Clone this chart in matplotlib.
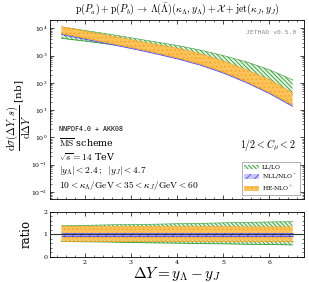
import numpy as np
import matplotlib
matplotlib.use("Agg")
import matplotlib.pyplot as plt
from matplotlib.patches import Patch

plt.rcParams['mathtext.fontset'] = 'cm'
plt.rcParams['font.family'] = 'serif'
plt.rcParams['font.serif'] = ['DejaVu Serif']
plt.rcParams['hatch.linewidth'] = 0.6

# rapidity interval values
dY = [1.5, 2.0, 2.5, 3.0, 3.5, 4.0, 4.5, 5.0, 5.5, 6.0, 6.5]

# log10 of the cross section bands [nb]
ll_hi = [4.05, 3.92, 3.79, 3.65, 3.51, 3.37, 3.20, 3.00, 2.77, 2.48, 2.11]
ll_lo = [3.63, 3.53, 3.42, 3.31, 3.19, 3.07, 2.90, 2.67, 2.40, 2.05, 1.56]
nll_hi = [3.86, 3.69, 3.52, 3.35, 3.17, 2.97, 2.74, 2.45, 2.10, 1.70, 1.24]
nll_lo = [3.77, 3.60, 3.43, 3.26, 3.08, 2.88, 2.65, 2.36, 2.01, 1.61, 1.14]
he_hi = [4.06, 3.90, 3.74, 3.58, 3.42, 3.27, 3.07, 2.80, 2.48, 2.12, 1.63]
he_lo = [3.81, 3.64, 3.47, 3.30, 3.12, 2.92, 2.69, 2.40, 2.05, 1.65, 1.19]

# ratio bands
r_ll_hi = [1.38, 1.40, 1.42, 1.44, 1.45, 1.47, 1.49, 1.51, 1.53, 1.55, 1.56]
r_ll_lo = [0.68, 0.67, 0.66, 0.64, 0.62, 0.61, 0.59, 0.58, 0.56, 0.55, 0.53]
r_nll_hi = [1.05, 1.05, 1.05, 1.05, 1.05, 1.05, 1.05, 1.05, 1.05, 1.05, 1.05]
r_nll_lo = [0.94, 0.94, 0.94, 0.94, 0.94, 0.94, 0.94, 0.94, 0.94, 0.94, 0.94]
r_he_hi = [1.36, 1.36, 1.35, 1.35, 1.35, 1.34, 1.34, 1.34, 1.33, 1.33, 1.33]
r_he_lo = [0.72, 0.72, 0.72, 0.72, 0.72, 0.72, 0.72, 0.72, 0.72, 0.72, 0.72]

green = '#2e9a2e'
blue = '#4a4aff'
orange = '#f7a21b'
ghatch = '\\' * 8

fig = plt.figure(figsize=(3.09, 2.82), dpi=100)
ax = fig.add_axes([0.162, 0.294, 0.822, 0.635])
axr = fig.add_axes([0.162, 0.089, 0.822, 0.160])

x = np.array(dY)


def band(a, lo, hi, col, fc, hatch, z):
    a.fill_between(x, lo, hi, facecolor=fc, edgecolor=col, hatch=hatch,
                   linewidth=0.0, zorder=z)
    a.plot(x, lo, color=col, lw=0.6, zorder=z)
    a.plot(x, hi, color=col, lw=0.4, zorder=z)


band(ax, 10**np.array(ll_lo), 10**np.array(ll_hi), green, '#e4f4e4', ghatch, 2)
band(ax, 10**np.array(nll_lo), 10**np.array(nll_hi), blue, '#c8c8ff', '////', 3)
band(ax, 10**np.array(he_lo), 10**np.array(he_hi), orange, '#fbc35a', '....', 4)

band(axr, r_ll_lo, r_ll_hi, green, '#e4f4e4', ghatch, 2)
band(axr, r_he_lo, r_he_hi, orange, '#fbc35a', '....', 3)
band(axr, r_nll_lo, r_nll_hi, blue, '#aab0ff', '////', 4)
axr.axhline(1.0, color='#333333', lw=0.8, zorder=5)

ax.set_yscale('log')
ax.set_xlim(1.25, 6.75)
ax.set_ylim(5.5e-3, 2e4)
axr.set_xlim(1.25, 6.75)
axr.set_ylim(0, 2)

for a in (ax, axr):
    a.tick_params(which='both', direction='in', top=True, right=True, labelsize=4.5, pad=2)
    a.tick_params(which='major', length=3, width=0.5)
    a.tick_params(which='minor', length=1.5, width=0.4)
    a.minorticks_on()
    for s in a.spines.values():
        s.set_linewidth(0.6)
ax.set_xticklabels([])
axr.set_xticks([2, 3, 4, 5, 6])
axr.set_yticks([0, 1, 2])

ax.set_title(r'$\mathrm{p}(P_a) + \mathrm{p}(P_b) \,\rightarrow\, \Lambda(\bar{\Lambda})(\kappa_\Lambda, y_\Lambda) + \mathcal{X} + \mathrm{jet}(\kappa_J, y_J)$',
             fontsize=7.2, pad=6)
ax.set_ylabel(r'$\dfrac{\mathrm{d}\sigma(\Delta Y, s)}{\mathrm{d}\Delta Y}$ [nb]',
              fontsize=7.5)
ax.yaxis.set_label_coords(-0.068, 0.47)
axr.set_ylabel('ratio', fontsize=8.5)
axr.yaxis.set_label_coords(-0.07, 0.5)
axr.set_xlabel(r'$\mathbf{\Delta} Y = y_\Lambda - y_J$', fontsize=11, labelpad=0)

ax.text(0.97, 0.933, 'JETHAD v0.5.0', transform=ax.transAxes, ha='right', va='center',
        fontsize=4.6, color='#888888', family='monospace')
ax.text(0.035, 0.39, 'NNPDF4.0 + AKK08', transform=ax.transAxes, fontsize=4.8,
        family='monospace', va='center')
ax.text(0.035, 0.318, r'$\overline{\mathrm{MS}}$ scheme', transform=ax.transAxes,
        fontsize=6.8, va='center')
ax.text(0.035, 0.235, r'$\sqrt{s} = 14$ TeV', transform=ax.transAxes, fontsize=6.8,
        va='center')
ax.text(0.035, 0.16, r'$|y_\Lambda| < 2.4\,;\ \ |y_J| < 4.7$', transform=ax.transAxes,
        fontsize=6.8, va='center')
ax.text(0.035, 0.078, r'$10 < \kappa_\Lambda/\mathrm{GeV} < 35 < \kappa_J/\mathrm{GeV} < 60$',
        transform=ax.transAxes, fontsize=6.8, va='center')
ax.text(0.97, 0.30, r'$1/2 < C_\mu < 2$', transform=ax.transAxes, ha='right',
        fontsize=7.2, va='center')

handles = [Patch(facecolor='#e4f4e4', edgecolor=green, hatch=ghatch, lw=0),
           Patch(facecolor='#c8c8ff', edgecolor=blue, hatch='////', lw=0),
           Patch(facecolor='#fbc35a', edgecolor=orange, hatch='....', lw=0)]
leg = ax.legend(handles, ['LL/LO', r'NLL/NLO$^+$', r'HE-NLO$^+$'], loc='lower right',
                fontsize=4.3, frameon=True, fancybox=False, edgecolor='#555555',
                handlelength=2.4, handleheight=0.8, borderpad=0.4, labelspacing=0.35,
                handletextpad=0.6, bbox_to_anchor=(0.995, 0.005))
leg.get_frame().set_linewidth(0.4)

fig.savefig('out.png', dpi=100)
